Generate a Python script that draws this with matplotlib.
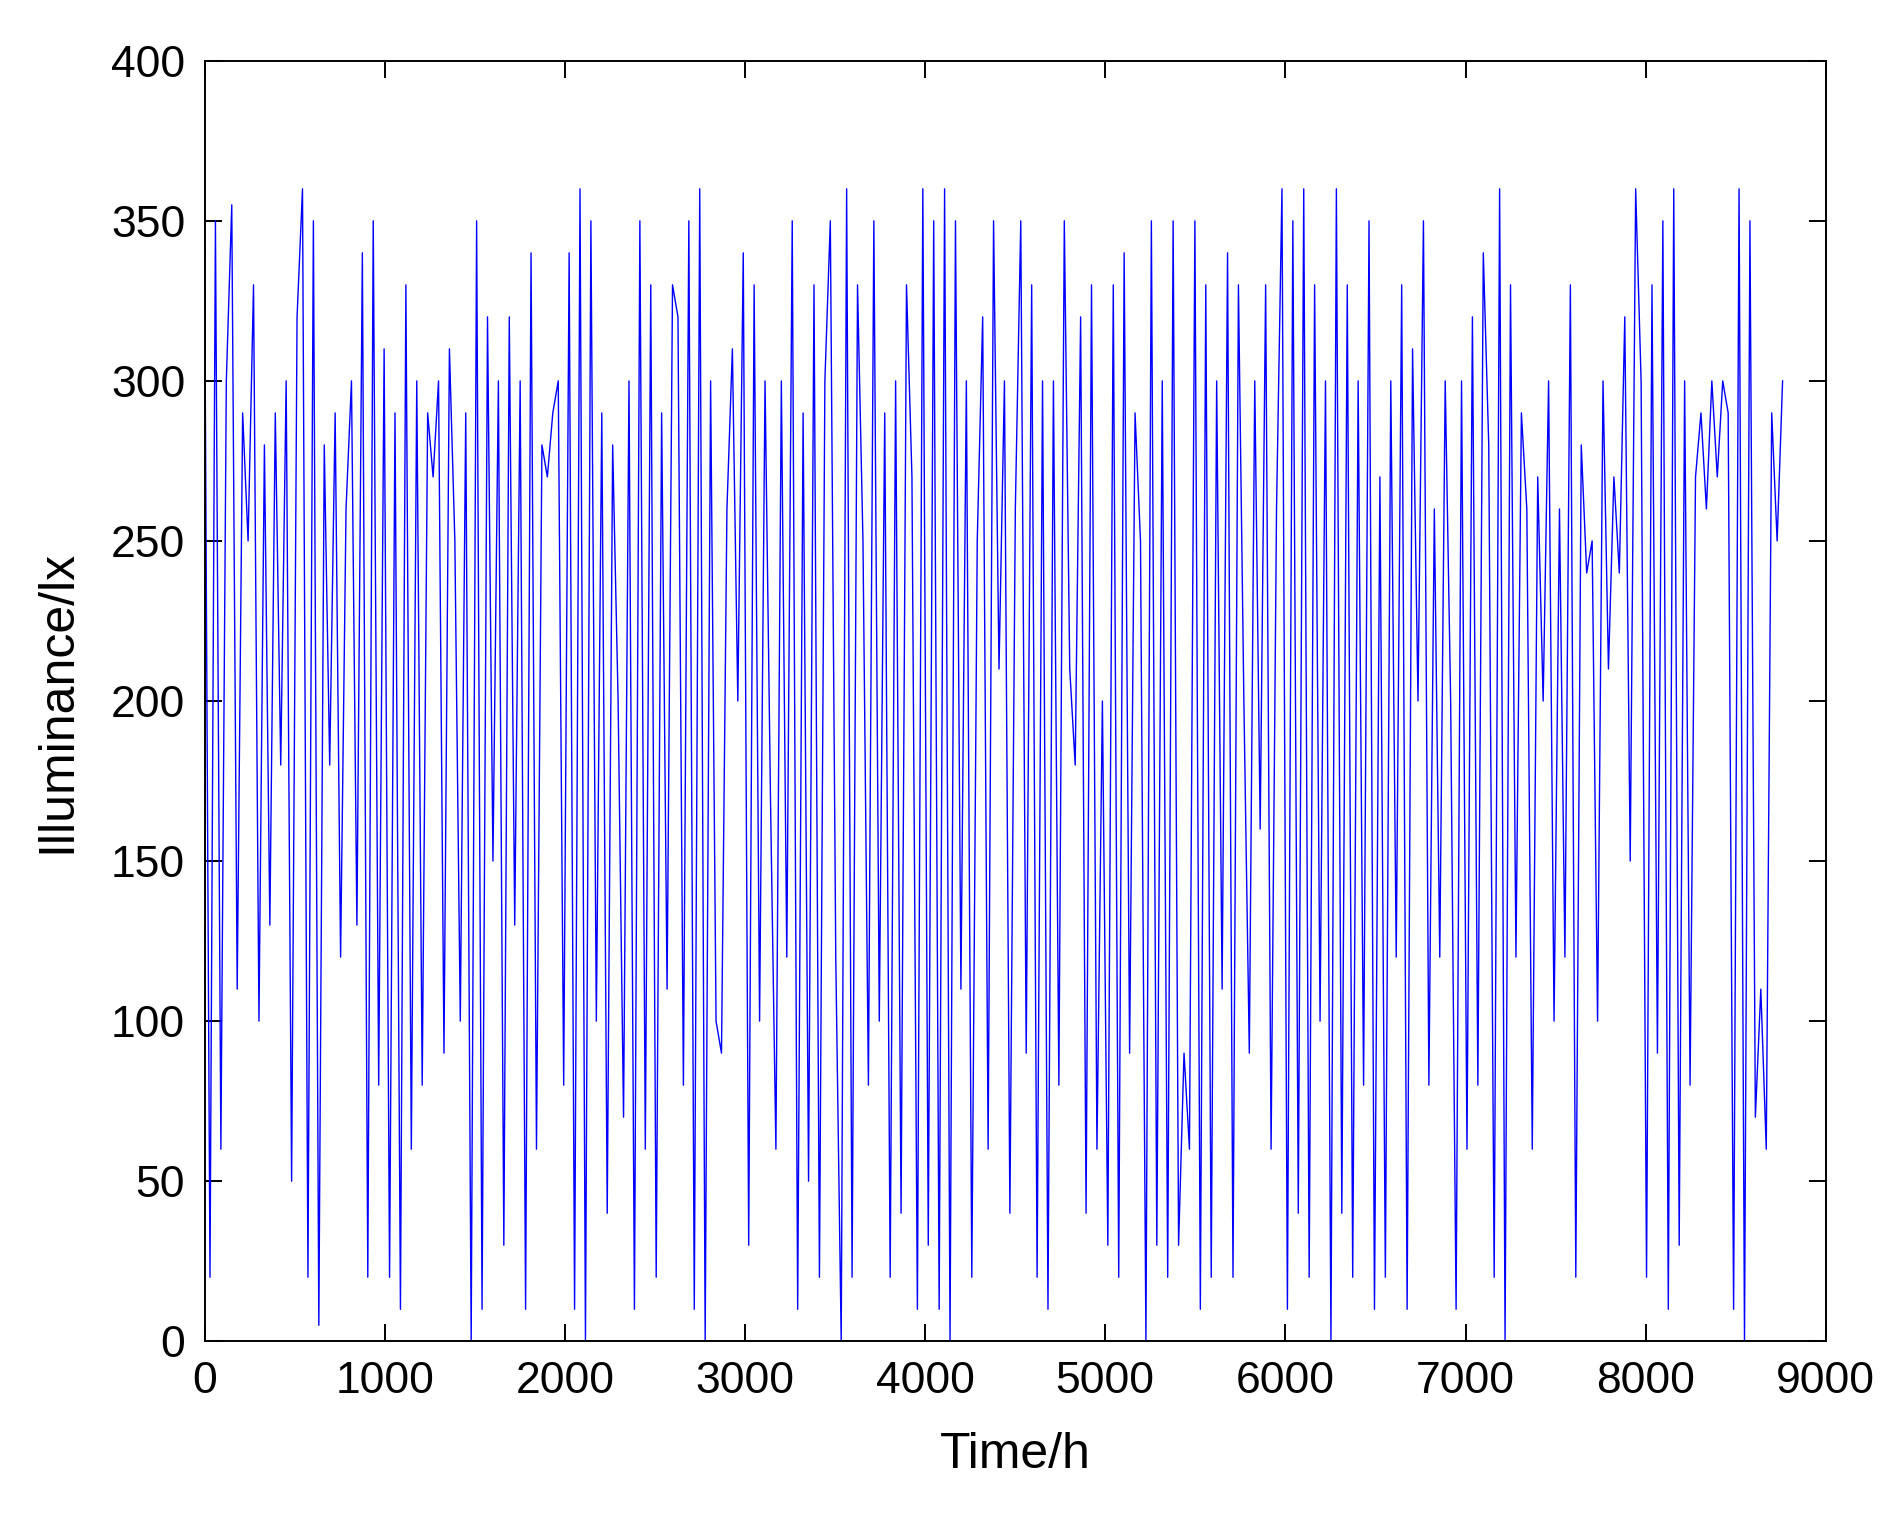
import numpy as np
import matplotlib.pyplot as plt

plt.rcParams['font.family'] = ['Liberation Sans', 'DejaVu Sans']

# illuminance, ~30 h apart, one row per 1000 h
lux_0 = [340, 20, 350, 60, 300, 355, 110, 290, 250, 330, 100, 280, 130, 290, 180, 300, 50,
         320, 360, 20, 350, 5, 280, 180, 290, 120, 260, 300, 130, 340, 20, 350, 80]
lux_1 = [310, 20, 290, 10, 330, 60, 300, 80, 290, 270, 300, 90, 310, 250, 100, 290, 0,
         350, 10, 320, 150, 300, 30, 320, 130, 300, 10, 340, 60, 280, 270, 290, 300]
lux_2 = [80, 340, 10, 360, 0, 350, 100, 290, 40, 280, 200, 70, 300, 10, 350, 60, 330,
         20, 290, 110, 330, 320, 80, 350, 10, 360, 0, 300, 100, 90, 260, 310, 200]
lux_3 = [340, 30, 330, 100, 300, 170, 60, 300, 120, 350, 10, 290, 50, 330, 20, 300, 350,
         120, 0, 360, 20, 330, 250, 80, 350, 100, 290, 20, 300, 40, 330, 270, 10]
lux_4 = [360, 30, 350, 10, 360, 0, 350, 110, 300, 20, 250, 320, 60, 350, 210, 300, 40,
         260, 350, 90, 330, 20, 300, 10, 300, 80, 350, 210, 180, 320, 40, 330, 60]
lux_5 = [200, 30, 330, 20, 340, 90, 290, 250, 0, 350, 30, 300, 20, 350, 30, 90, 60,
         350, 10, 330, 20, 300, 110, 340, 20, 330, 200, 90, 300, 160, 330, 60, 260]
lux_6 = [360, 10, 350, 40, 360, 20, 330, 100, 300, 0, 360, 40, 330, 20, 300, 80, 350,
         10, 270, 20, 300, 120, 330, 10, 310, 200, 350, 80, 260, 120, 300, 200, 10]
lux_7 = [300, 60, 320, 80, 340, 280, 20, 360, 0, 330, 120, 290, 260, 60, 270, 200, 300,
         100, 260, 120, 330, 20, 280, 240, 250, 100, 300, 210, 270, 240, 320, 150, 360]
lux_8 = [300, 20, 330, 90, 350, 10, 360, 30, 300, 80, 270, 290, 260, 300, 270, 300, 290,
         10, 360, 0, 350, 70, 110, 60, 290, 250, 300]

lux = np.array(lux_0 + lux_1 + lux_2 + lux_3 + lux_4 + lux_5 + lux_6 + lux_7 + lux_8)
hours = np.linspace(0, 8760, len(lux))

fig = plt.figure(figsize=(18.94, 15.19), dpi=100)
ax = fig.add_axes([0.108, 0.117, 0.856, 0.843])
ax.plot(hours, lux, color='blue', linewidth=1.0)

ax.set_xlim(0, 9000)
ax.set_ylim(0, 400)
ax.set_xticks(np.arange(0, 9001, 1000))
ax.set_yticks(np.arange(0, 401, 50))
ax.tick_params(direction='in', top=True, right=True, length=12, width=1.4,
               labelsize=32, pad=14)
for s in ax.spines.values():
    s.set_linewidth(1.4)
ax.set_xlabel('Time/h', fontsize=36, labelpad=22)
ax.set_ylabel('Illuminance/lx', fontsize=36, labelpad=22)

fig.savefig('out.png', dpi=100)
